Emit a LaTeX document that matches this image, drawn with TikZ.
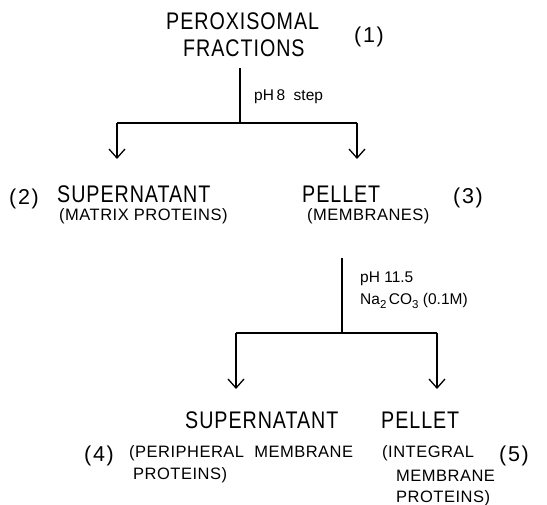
\documentclass[tikz,border=0pt]{standalone}
\usepackage{fontspec}
\setmainfont{Liberation Sans}
\newfontfamily\bigf[FakeStretch=0.82,LetterSpace=4]{Liberation Sans}
\newfontfamily\smf[LetterSpace=3]{Liberation Sans}
\newfontfamily\numf[LetterSpace=8]{Liberation Sans}
\usetikzlibrary{arrows.meta}
\newcommand{\subnum}[1]{\raisebox{-0.28em}{\fontsize{11.5}{11.5}\selectfont #1}}
\begin{document}
\begin{tikzpicture}[x=1pt,y=-1pt,
  big/.style={inner sep=0pt,anchor=west,font=\bigf\fontsize{24}{24}\selectfont},
  sml/.style={inner sep=0pt,anchor=west,font=\smf\fontsize{16.5}{16.5}\selectfont},
  num/.style={inner sep=0pt,anchor=west,font=\numf\fontsize{21.5}{21.5}\selectfont},
  cond/.style={inner sep=0pt,anchor=west,font=\fontsize{15.5}{15.5}\selectfont},
  ln/.style={line width=1.3pt},
  arr/.style={line width=1.3pt,-{Straight Barb[length=9pt,width=16pt,line width=1.3pt]}}]
\useasboundingbox (0,0) rectangle (547,505);
% level 1
\node[big] (t1a) at (166,21) {PEROXISOMAL};
\node[big] (t1b) at (183,48) {FRACTIONS};
\node[num] (n1) at (354,37) {(1)};
\coordinate (s1) at (240,68);
\coordinate (j1) at (240,123);
\coordinate (l1) at (117,123);
\coordinate (r1) at (357,123);
\coordinate (la) at (117,159);
\coordinate (ra) at (357,159);
\draw[ln] (s1) -- (j1);
\draw[ln] (l1) -- (r1);
\draw[arr] (l1) -- (la);
\draw[arr] (r1) -- (ra);
\node[cond] (c1) at (254,97) {pH\,8\hspace{0.55em}step};
% level 2
\node[num] (n2) at (9,199) {(2)};
\node[big] (t2) at (57,194) {SUPERNATANT};
\node[sml] (t2b) at (59,216) {(MATRIX PROTEINS)};
\node[big] (t3) at (302,194) {PELLET};
\node[sml] (t3b) at (307,216) {(MEMBRANES)};
\node[num] (n3) at (453,198) {(3)};
% level 2 split
\coordinate (s2) at (342,258);
\coordinate (j2) at (342,333);
\coordinate (l2) at (236,333);
\coordinate (r2) at (437,333);
\coordinate (lb) at (236,389);
\coordinate (rb) at (437,389);
\draw[ln] (s2) -- (j2);
\draw[ln] (l2) -- (r2);
\draw[arr] (l2) -- (lb);
\draw[arr] (r2) -- (rb);
\node[cond] (c2) at (360,279) {pH 11.5};
\node[cond] (c3) at (360,301) {Na\subnum{2}\,CO\subnum{3} (0.1M)};
% level 3
\node[big] (t4) at (185,420) {SUPERNATANT};
\node[num] (n4) at (84,456) {(4)};
\node[sml] (t4b) at (129,453) {(PERIPHERAL\ \ MEMBRANE};
\node[sml] (t4c) at (133,475) {PROTEINS)};
\node[big] (t5) at (381,420) {PELLET};
\node[sml] (t5b) at (382,453) {(INTEGRAL};
\node[num] (n5) at (499,456) {(5)};
\node[sml] (t5c) at (396,476) {MEMBRANE};
\node[sml] (t5d) at (396,498) {PROTEINS)};
\end{tikzpicture}
\end{document}
